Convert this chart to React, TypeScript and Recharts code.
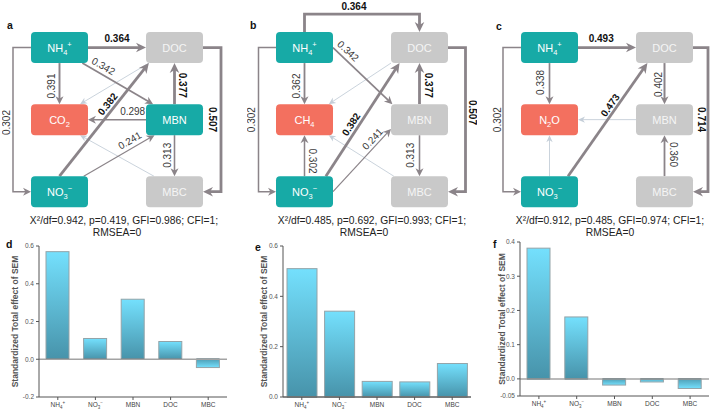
import React from "react";
import { Bar, BarChart, ReferenceLine, Scatter, ScatterChart, XAxis, YAxis } from "recharts";

const FONT = '"Liberation Sans", Arial, Helvetica, sans-serif';

// SEM node grid (column, row)
const nodeIds = ["NH4", "DOC", "GAS", "MBN", "NO3", "MBC"];
const nodeCols = [0, 1, 0, 1, 0, 1];
const nodeRows = [0, 0, 1, 1, 2, 2];
const nodeNames: Record<string, string> = { NH4: "NH4+", NO3: "NO3-", DOC: "DOC", MBN: "MBN", MBC: "MBC" };

const gasNames = ["CO2", "CH4", "N2O"];
const tealNodesA = ["NH4", "MBN", "NO3"];
const tealNodesB = ["NH4", "NO3"];
const tealNodesC = ["NH4", "NO3"];

type Path = { from: string; to: string; coef: number | null; sig?: boolean };

const pathsA: Path[] = [
  { from: "DOC", to: "GAS", coef: null },
  { from: "MBC", to: "GAS", coef: null },
  { from: "NH4", to: "DOC", coef: 0.364, sig: true },
  { from: "NH4", to: "GAS", coef: 0.391 },
  { from: "NH4", to: "MBN", coef: 0.342 },
  { from: "NO3", to: "DOC", coef: 0.382, sig: true },
  { from: "MBN", to: "DOC", coef: 0.377, sig: true },
  { from: "MBN", to: "GAS", coef: 0.298 },
  { from: "NO3", to: "MBN", coef: 0.241 },
  { from: "MBN", to: "MBC", coef: 0.313 },
  { from: "DOC", to: "MBC", coef: 0.507, sig: true },
  { from: "NH4", to: "NO3", coef: 0.302 },
];

const pathsB: Path[] = [
  { from: "DOC", to: "GAS", coef: null },
  { from: "MBC", to: "GAS", coef: null },
  { from: "NH4", to: "DOC", coef: 0.364, sig: true },
  { from: "NH4", to: "GAS", coef: 0.362 },
  { from: "NH4", to: "MBN", coef: 0.342 },
  { from: "NO3", to: "DOC", coef: 0.382, sig: true },
  { from: "MBN", to: "DOC", coef: 0.377, sig: true },
  { from: "NO3", to: "GAS", coef: 0.302 },
  { from: "NO3", to: "MBN", coef: 0.241 },
  { from: "MBN", to: "MBC", coef: 0.313 },
  { from: "DOC", to: "MBC", coef: 0.507, sig: true },
  { from: "NH4", to: "NO3", coef: 0.302 },
];

const pathsC: Path[] = [
  { from: "MBN", to: "GAS", coef: null },
  { from: "NO3", to: "GAS", coef: null },
  { from: "NH4", to: "DOC", coef: 0.493, sig: true },
  { from: "NH4", to: "GAS", coef: 0.338 },
  { from: "NO3", to: "DOC", coef: 0.473, sig: true },
  { from: "DOC", to: "MBN", coef: 0.402 },
  { from: "MBC", to: "MBN", coef: 0.36 },
  { from: "DOC", to: "MBC", coef: 0.714, sig: true },
  { from: "NH4", to: "NO3", coef: 0.302 },
];

const fitLines = [
  "X²/df=0.942, p=0.419, GFI=0.986; CFI=1;",
  "X²/df=0.485, p=0.692, GFI=0.993; CFI=1;",
  "X²/df=0.912, p=0.485, GFI=0.974; CFI=1;",
];
const fitRmsea = ["RMSEA=0", "RMSEA=0", "RMSEA=0"];

// total effects
const effectCategories = ["NH4+", "NO3-", "MBN", "DOC", "MBC"];
const effectsCO2 = [0.57, 0.11, 0.318, 0.094, -0.044];
const effectsCH4 = [0.51, 0.341, 0.062, 0.06, 0.133];
const effectsN2O = [0.382, 0.181, -0.018, -0.009, -0.028];
const ticksCO2 = [-0.2, 0, 0.2, 0.4, 0.6];
const ticksCH4 = [0, 0.2, 0.4, 0.6];
const ticksN2O = [-0.05, 0, 0.1, 0.2, 0.3, 0.4];

type Lay = {
  a?: [number, number];
  b?: [number, number];
  bend?: { axis: "x" | "y"; off: number };
  t?: number;
  dx?: number;
  dy?: number;
  rot?: number;
};

const layoutA: Record<string, Lay> = {
  "NH4>DOC": { a: [1, 0], b: [-1, 0], t: 0.5, dy: -9 },
  "NH4>GAS": { a: [0, 1], b: [0, -1], t: 0.56, dx: -8, rot: -90 },
  "NH4>MBN": { a: [0.8, 1], b: [-0.75, -1], t: 0.27, dx: 2, dy: -8 },
  "NO3>DOC": { a: [0, -1], b: [-0.9, 1], t: 0.55, dx: -1, dy: -10 },
  "MBN>DOC": { a: [0, -1], b: [0, 1], t: 0.46, dx: 8, rot: 90 },
  "MBN>GAS": { a: [-1, 0], b: [1, 0], t: 0.23, dy: -8 },
  "NO3>MBN": { a: [0.85, -1], b: [-0.7, 1], t: 0.65, dy: -9 },
  "MBN>MBC": { a: [0, 1], b: [0, -1], t: 0.49, dx: -7, rot: -90 },
  "DOC>MBC": { a: [1, 0], b: [1, 0], bend: { axis: "x", off: 46.5 }, t: 0.5, dx: -9, rot: 90 },
  "NH4>NO3": { a: [-1, 0], b: [-1, 0], bend: { axis: "x", off: -46.5 }, t: 0.52, dx: -6, rot: -90 },
  "DOC>GAS": { a: [-0.9, 1], b: [0.72, -1] },
  "MBC>GAS": { a: [-0.72, -1], b: [0.72, 1] },
};

const layoutB: Record<string, Lay> = {
  "NH4>DOC": { a: [0, -1], b: [0, -1], bend: { axis: "y", off: -33.5 }, t: 0.43, dy: -8 },
  "NH4>GAS": { a: [0, 1], b: [0, -1], t: 0.56, dx: -8, rot: -90 },
  "NH4>MBN": { a: [1, 0], b: [-0.95, -1], t: 0.22, dx: 2, dy: -9 },
  "NO3>DOC": { a: [0.75, -1], b: [-0.7, 1], t: 0.37, dx: -2, dy: -10 },
  "MBN>DOC": { a: [0, -1], b: [0, 1], t: 0.46, dx: 9, rot: 90 },
  "NO3>GAS": { a: [0, -1], b: [0, 1], t: 0.37, dx: 8, rot: 90 },
  "NO3>MBN": { a: [1, 0], b: [-1, 0.6], t: 0.68, dy: -10 },
  "MBN>MBC": { a: [0, 1], b: [0, -1], t: 0.49, dx: -9, rot: -90 },
  "DOC>MBC": { a: [1, 0], b: [1, 0], bend: { axis: "x", off: 46 }, t: 0.45, dx: 7, rot: 90 },
  "NH4>NO3": { a: [-1, 0], b: [-1, 0], bend: { axis: "x", off: -46 }, t: 0.5, dx: -7, rot: -90 },
  "DOC>GAS": { a: [-1, 1], b: [0.85, -1] },
  "MBC>GAS": { a: [-0.9, -1], b: [0.85, 1] },
};

const layoutC: Record<string, Lay> = {
  "NH4>DOC": { a: [1, 0], b: [-1, 0], t: 0.4, dy: -9 },
  "NH4>GAS": { a: [0, 1], b: [0, -1], t: 0.47, dx: -9, rot: -90 },
  "NO3>DOC": { a: [0.65, -1], b: [-0.6, 1], t: 0.53, dy: -11 },
  "DOC>MBN": { a: [0, 1], b: [0, -1], t: 0.52, dx: -6, rot: -90 },
  "MBN>GAS": { a: [-1, 0], b: [1, 0] },
  "NO3>GAS": { a: [0, -1], b: [0, 1] },
  "MBC>MBN": { a: [0, -1], b: [0, 1], t: 0.53, dx: 9, rot: 90 },
  "DOC>MBC": { a: [1, 0], b: [1, 0], bend: { axis: "x", off: 43.5 }, t: 0.5, dx: -7, rot: 90 },
  "NH4>NO3": { a: [-1, 0], b: [-1, 0], bend: { axis: "x", off: -46.5 }, t: 0.5, dx: -5, rot: -90 },
};

const HW = 28.5;
const HH = 15.5;
const TEAL = "#17aaa6";
const SALMON = "#f3705f";
const GREY_NODE = "#c9c9c9";
const EDGE = "#8b8489";
const EDGE_LIGHT = "#c4ced8";

const nodes = nodeIds.map((id, i) => ({ id, col: nodeCols[i], row: nodeRows[i] }));

// letters normal, digits subscript, +/- superscript
function chemSpans(name: string, fs: number) {
  const parts: { s: string; k: number }[] = [];
  for (const ch of name) {
    const k = /[0-9]/.test(ch) ? 1 : /[+-]/.test(ch) ? 2 : 0;
    const last = parts[parts.length - 1];
    if (last && last.k === k) last.s += ch;
    else parts.push({ s: ch, k });
  }
  let cur = 0;
  return parts.map((p, i) => {
    const target = p.k === 1 ? fs * 0.3 : p.k === 2 ? -fs * 0.4 : 0;
    const dy = target - cur;
    cur = target;
    return (
      <tspan key={i} dy={dy} fontSize={p.k ? fs * 0.68 : fs}>
        {p.k === 2 && p.s === "-" ? "−" : p.s}
      </tspan>
    );
  });
}

function NodeShape(props: any) {
  const { cx, cy, payload, gas, teal } = props;
  const id = payload.id as string;
  const fill = id === "GAS" ? SALMON : teal.includes(id) ? TEAL : GREY_NODE;
  const name = id === "GAS" ? gas : nodeNames[id];
  return (
    <g>
      <rect x={cx - HW} y={cy - HH} width={HW * 2} height={HH * 2} rx={4} fill={fill} />
      <text
        x={cx}
        y={cy + 4}
        textAnchor="middle"
        fontSize={11}
        fontFamily={FONT}
        fill={fill === GREY_NODE ? "#f5f5f5" : "#ffffff"}
      >
        {chemSpans(name, 11)}
      </text>
    </g>
  );
}

function EdgeShape(props: any) {
  const { x1, y1, x2, y2, path, lay } = props as { x1: number; y1: number; x2: number; y2: number; path: Path; lay: Lay };
  const [ax, ay] = lay.a ?? [0, 0];
  const [bx, by] = lay.b ?? [0, 0];
  const s = { x: x1 + ax * HW, y: y1 + ay * HH };
  const e = { x: x2 + bx * HW, y: y2 + by * HH };
  let pts = [s, e];
  let leg = 0;
  if (lay.bend) {
    if (lay.bend.axis === "x") {
      const bxp = x1 + lay.bend.off;
      pts = [s, { x: bxp, y: s.y }, { x: bxp, y: e.y }, e];
    } else {
      const byp = y1 + lay.bend.off;
      pts = [s, { x: s.x, y: byp }, { x: e.x, y: byp }, e];
    }
    leg = 1;
  }
  const light = path.coef == null;
  const w = light ? 0.9 : path.sig ? 2.8 : 1.2 + ((path.coef as number) - 0.24) * 5;
  const color = light ? EDGE_LIGHT : EDGE;
  const len = light ? 7 : path.sig ? 10 : 8;
  const half = light ? 3.2 : path.sig ? 4.8 : 4;

  const last = pts[pts.length - 1];
  const prev = pts[pts.length - 2];
  const L = Math.hypot(last.x - prev.x, last.y - prev.y) || 1;
  const ux = (last.x - prev.x) / L;
  const uy = (last.y - prev.y) / L;
  const lineEnd = { x: last.x - ux * len * 0.6, y: last.y - uy * len * 0.6 };
  const d =
    pts
      .slice(0, -1)
      .map((p, i) => `${i ? "L" : "M"}${p.x},${p.y}`)
      .join(" ") + ` L${lineEnd.x},${lineEnd.y}`;
  const back = { x: last.x - ux * len, y: last.y - uy * len };
  const notch = { x: last.x - ux * len * 0.7, y: last.y - uy * len * 0.7 };
  const nx = -uy;
  const ny = ux;
  const arrow = [
    `${last.x},${last.y}`,
    `${back.x + nx * half},${back.y + ny * half}`,
    `${notch.x},${notch.y}`,
    `${back.x - nx * half},${back.y - ny * half}`,
  ].join(" ");

  let label = null;
  if (path.coef != null) {
    const P = pts[leg];
    const Q = pts[leg + 1];
    const t = lay.t ?? 0.5;
    const lx = P.x + (Q.x - P.x) * t + (lay.dx ?? 0);
    const lyy = P.y + (Q.y - P.y) * t + (lay.dy ?? 0);
    let rot = lay.rot;
    if (rot === undefined) {
      rot = (Math.atan2(Q.y - P.y, Q.x - P.x) * 180) / Math.PI;
      if (rot > 90) rot -= 180;
      if (rot < -90) rot += 180;
    }
    label = (
      <text
        x={lx}
        y={lyy}
        transform={`rotate(${rot} ${lx} ${lyy})`}
        textAnchor="middle"
        dominantBaseline="central"
        fontSize={10}
        fontFamily={FONT}
        fontWeight={path.sig ? 700 : 400}
        fill={path.sig ? "#111" : "#3a3a3a"}
      >
        {path.coef.toFixed(3)}
      </text>
    );
  }

  return (
    <g>
      <path d={d} fill="none" stroke={color} strokeWidth={w} strokeLinejoin="miter" />
      <polygon points={arrow} fill={color} />
      {label}
    </g>
  );
}

function SemPanel(props: { left: number; paths: Path[]; layout: Record<string, Lay>; gas: string; teal: string[] }) {
  const { left, paths, layout, gas, teal } = props;
  const byId = (id: string) => nodes.find((n) => n.id === id)!;
  return (
    <div style={{ position: "absolute", left, top: 0 }}>
      <ScatterChart width={230} height={240} margin={{ top: 0, right: 0, bottom: 0, left: 0 }}>
        <XAxis type="number" dataKey="col" domain={[-0.5, 1.5]} hide />
        <YAxis type="number" dataKey="row" domain={[-0.66, 2.67]} reversed hide />
        {paths.map((p) => {
          const f = byId(p.from);
          const t = byId(p.to);
          const lay = layout[`${p.from}>${p.to}`] ?? {};
          return (
            <ReferenceLine
              key={`${p.from}-${p.to}`}
              ifOverflow="visible"
              segment={[
                { x: f.col, y: f.row },
                { x: t.col, y: t.row },
              ]}
              shape={(sp: any) => <EdgeShape {...sp} path={p} lay={lay} />}
            />
          );
        })}
        <Scatter
          data={nodes}
          isAnimationActive={false}
          shape={(sp: any) => <NodeShape {...sp} gas={gas} teal={teal} />}
        />
      </ScatterChart>
    </div>
  );
}

function ChemTick(props: any) {
  const { x, y, payload } = props;
  return (
    <text x={x} y={y + 5} textAnchor="middle" fontSize={6.5} fontFamily={FONT} fill="#444">
      {chemSpans(payload.value, 6.5)}
    </text>
  );
}

const fmtTick = (v: number) => (Math.abs(v * 10 - Math.round(v * 10)) > 1e-9 ? v.toFixed(2) : v.toFixed(1));

function EffectPanel(props: {
  id: string;
  left: number;
  width: number;
  top: number;
  yWidth: number;
  xHeight: number;
  mTop: number;
  mRight: number;
  values: number[];
  ticks: number[];
  barSize: number;
  labelDx: number;
}) {
  const { id, left, width, top, yWidth, xHeight, mTop, mRight, values, ticks, barSize, labelDx } = props;
  const height = 176;
  const data = effectCategories.map((name, i) => ({ name, value: values[i] }));
  const labelCy = mTop + (height - mTop - xHeight) / 2;
  const GradBar = (bp: any) => {
    const { x, y, width: bw, height: bh, payload } = bp;
    const neg = payload.value < 0;
    const yTop = Math.min(y, y + bh);
    const h = Math.abs(bh);
    const baseY = neg ? yTop : yTop + h;
    return (
      <g>
        <rect x={x} y={yTop} width={bw} height={h} fill={`url(#${neg ? "neg" : "pos"}-${id})`} stroke="#93a3a8" strokeWidth={1} />
        <line x1={x} x2={x + bw} y1={baseY} y2={baseY} stroke="#1d4b57" strokeWidth={1.4} />
      </g>
    );
  };
  return (
    <div style={{ position: "absolute", left, top }}>
      <BarChart
        width={width}
        height={height}
        data={data}
        margin={{ top: mTop, right: mRight, bottom: 0, left: 0 }}
        barSize={barSize}
      >
        <defs>
          <linearGradient id={`pos-${id}`} x1="0" y1="0" x2="0" y2="1">
            <stop offset="0" stopColor="#74e0fd" />
            <stop offset="1" stopColor="#4793aa" />
          </linearGradient>
          <linearGradient id={`neg-${id}`} x1="0" y1="0" x2="0" y2="1">
            <stop offset="0" stopColor="#4f9fb6" />
            <stop offset="1" stopColor="#74e0fd" />
          </linearGradient>
        </defs>
        <XAxis
          dataKey="name"
          height={xHeight}
          interval={0}
          tickSize={3}
          axisLine={{ stroke: "#555" }}
          tickLine={{ stroke: "#555" }}
          tick={(tp: any) => <ChemTick {...tp} />}
        />
        <YAxis
          width={yWidth}
          domain={[ticks[0], ticks[ticks.length - 1]]}
          ticks={ticks}
          tickFormatter={fmtTick}
          tickSize={3}
          axisLine={{ stroke: "#555" }}
          tickLine={{ stroke: "#555" }}
          tick={{ fontSize: 6.5, fill: "#555", fontFamily: FONT }}
          label={{
            content: () => (
              <text
                x={labelDx}
                y={labelCy}
                transform={`rotate(-90 ${labelDx} ${labelCy})`}
                textAnchor="middle"
                dominantBaseline="central"
                fontSize={8.5}
                fontWeight={700}
                fontFamily={FONT}
                fill="#555"
              >
                Standardized Total effect of SEM
              </text>
            ),
          }}
        />
        <ReferenceLine y={0} stroke="#a3a3a3" strokeWidth={1.5} />
        <Bar dataKey="value" isAnimationActive={false} shape={GradBar} />
      </BarChart>
    </div>
  );
}

const letter = (ch: string, left: number, top: number) => (
  <div
    style={{ position: "absolute", left, top, fontFamily: FONT, fontWeight: 700, fontSize: 10.5, color: "#111", lineHeight: "12px" }}
  >
    {ch}
  </div>
);

const fitText = (line: string, center: number, top: number) => (
  <div
    style={{
      position: "absolute",
      left: center - 130,
      width: 260,
      top,
      textAlign: "center",
      fontFamily: FONT,
      fontSize: 10.3,
      lineHeight: "12px",
      color: "#222",
      whiteSpace: "nowrap",
    }}
  >
    {line}
  </div>
);

export default function App() {
  return (
    <div
      style={{ position: "absolute", left: 0, top: 0, width: 715, height: 412, overflow: "hidden", background: "#fff" }}
    >
      <SemPanel left={2} paths={pathsA} layout={layoutA} gas={gasNames[0]} teal={tealNodesA} />
      <SemPanel left={246.5} paths={pathsB} layout={layoutB} gas={gasNames[1]} teal={tealNodesB} />
      <SemPanel left={492} paths={pathsC} layout={layoutC} gas={gasNames[2]} teal={tealNodesC} />

      {letter("a", 7, 19)}
      {letter("b", 250, 19)}
      {letter("c", 496, 20)}

      {fitText(fitLines[0], 124, 215)}
      {fitText(fitRmsea[0], 117, 227)}
      {fitText(fitLines[1], 372, 215)}
      {fitText(fitRmsea[1], 364, 227)}
      {fitText(fitLines[2], 610, 215)}
      {fitText(fitRmsea[2], 610, 227)}

      <EffectPanel id="d" left={0} width={235} top={236} yWidth={39} xHeight={15} mTop={10} mRight={8} values={effectsCO2} ticks={ticksCO2} barSize={23} labelDx={15} />
      <EffectPanel id="e" left={235} width={240} top={236} yWidth={48} xHeight={15} mTop={10} mRight={4} values={effectsCH4} ticks={ticksCH4} barSize={30} labelDx={29} />
      <EffectPanel id="f" left={470} width={245} top={236} yWidth={50} xHeight={16} mTop={6} mRight={6} values={effectsN2O} ticks={ticksN2O} barSize={23} labelDx={32} />

      {letter("d", 6, 238)}
      {letter("e", 255, 241)}
      {letter("f", 493, 238)}
    </div>
  );
}
